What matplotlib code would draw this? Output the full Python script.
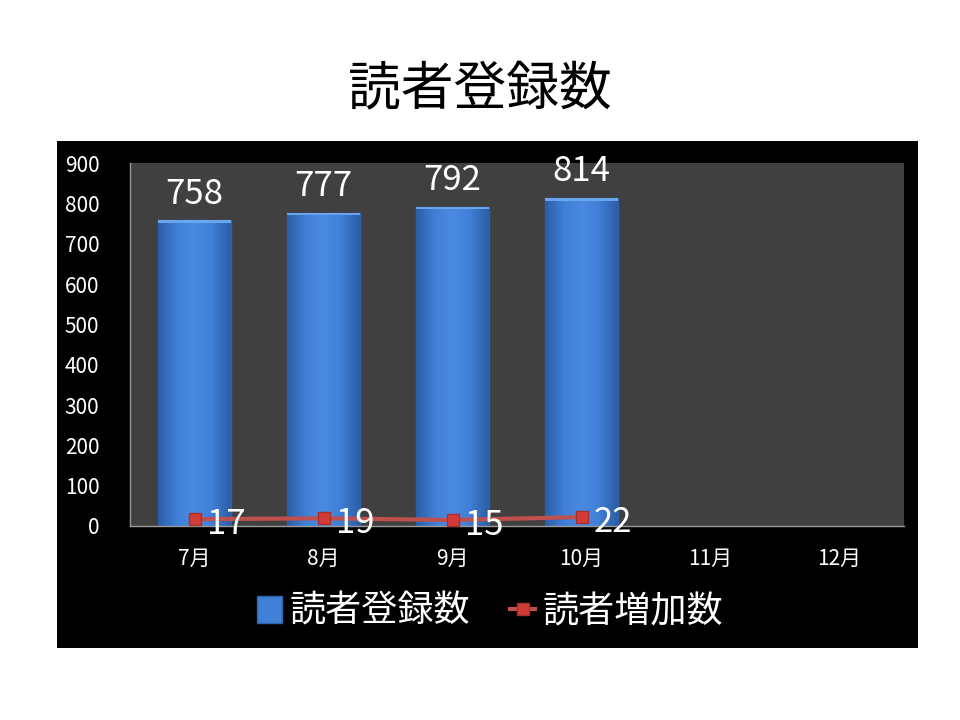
import numpy as np
import matplotlib
matplotlib.use("Agg")
import matplotlib.pyplot as plt
from matplotlib.patches import Rectangle
from matplotlib.colors import LinearSegmentedColormap

plt.rcParams['font.family'] = ['Noto Sans CJK JP', 'DejaVu Sans']

months = ["7月", "8月", "9月", "10月", "11月", "12月"]
registered = [758, 777, 792, 814]
increase = [17, 19, 15, 22]
title = "読者登録数"
bar_label = "読者登録数"
line_label = "読者増加数"

fig = plt.figure(figsize=(9.6, 7.2), dpi=100)
fig.patch.set_facecolor("white")

# black chart box behind the plot
bg = fig.add_axes([57 / 960, 72 / 720, 861 / 960, 507 / 720], zorder=-1)
bg.set_facecolor("black")
bg.set_xticks([])
bg.set_yticks([])
for s in bg.spines.values():
    s.set_visible(False)

fig.text(0.5, 0.875, title, ha="center", va="center", fontsize=38, color="black")

ax = fig.add_axes([130 / 960, 194 / 720, 774 / 960, 363 / 720], zorder=1)
ax.set_facecolor("#404040")

x = np.arange(len(months))
xb = x[:len(registered)]
bw = 0.56
bars = ax.bar(xb, registered, width=bw, color="#3f7fd6", edgecolor="#2f63ad",
              linewidth=1.0, zorder=2, label=bar_label)

# cylinder-like horizontal shading on the bars
shade = LinearSegmentedColormap.from_list(
    "shade", ["#2c5ea6", "#3f7fd6", "#4a8ae0", "#3f7fd6", "#2c5ea6"])
grad = np.linspace(0, 1, 64).reshape(1, -1)
for b, xi, v in zip(bars, xb, registered):
    im = ax.imshow(grad, extent=[xi - bw / 2, xi + bw / 2, 0, v], aspect="auto",
                   cmap=shade, zorder=2.5, interpolation="bilinear")
    im.set_clip_path(b)
    ax.add_patch(Rectangle((xi - bw / 2, v - 7), bw, 7, facecolor="#6aa6ee",
                           edgecolor="none", zorder=3))
    ax.annotate(str(v), (xi, v), xytext=(0, 6), textcoords="offset points",
                ha="center", va="bottom", fontsize=25, color="white")

line, = ax.plot(xb, increase, color="#c0504d", linewidth=3, marker="s", markersize=8,
                markerfacecolor="#d23b36", markeredgecolor="#a8302c", zorder=4,
                label=line_label)
for xi, v in zip(xb, increase):
    ax.annotate(str(v), (xi, v), xytext=(9, -4), textcoords="offset points",
                ha="left", va="center", fontsize=25, color="white", zorder=5)

ax.set_xlim(-0.5, len(months) - 0.5)
ax.set_ylim(0, 900)
ax.set_yticks(range(0, 901, 100))
ax.set_xticks(x)
ax.set_xticklabels(months)
ax.tick_params(axis="y", length=0, pad=22, labelsize=15, labelcolor="white")
ax.tick_params(axis="x", length=0, pad=16, labelsize=15, labelcolor="white")
for s in ["top", "right"]:
    ax.spines[s].set_visible(False)
for s in ["left", "bottom"]:
    ax.spines[s].set_color("#9a9a9a")
    ax.spines[s].set_linewidth(1)

leg = fig.legend([bars, line], [bar_label, line_label], loc="center",
                 bbox_to_anchor=(490 / 960, 108 / 720), ncol=2,
                 frameon=False, fontsize=26, labelcolor="white",
                 handlelength=0.7, handleheight=0.75, handletextpad=0.2,
                 columnspacing=1.1)

fig.savefig("out.png", dpi=100, facecolor="white")
